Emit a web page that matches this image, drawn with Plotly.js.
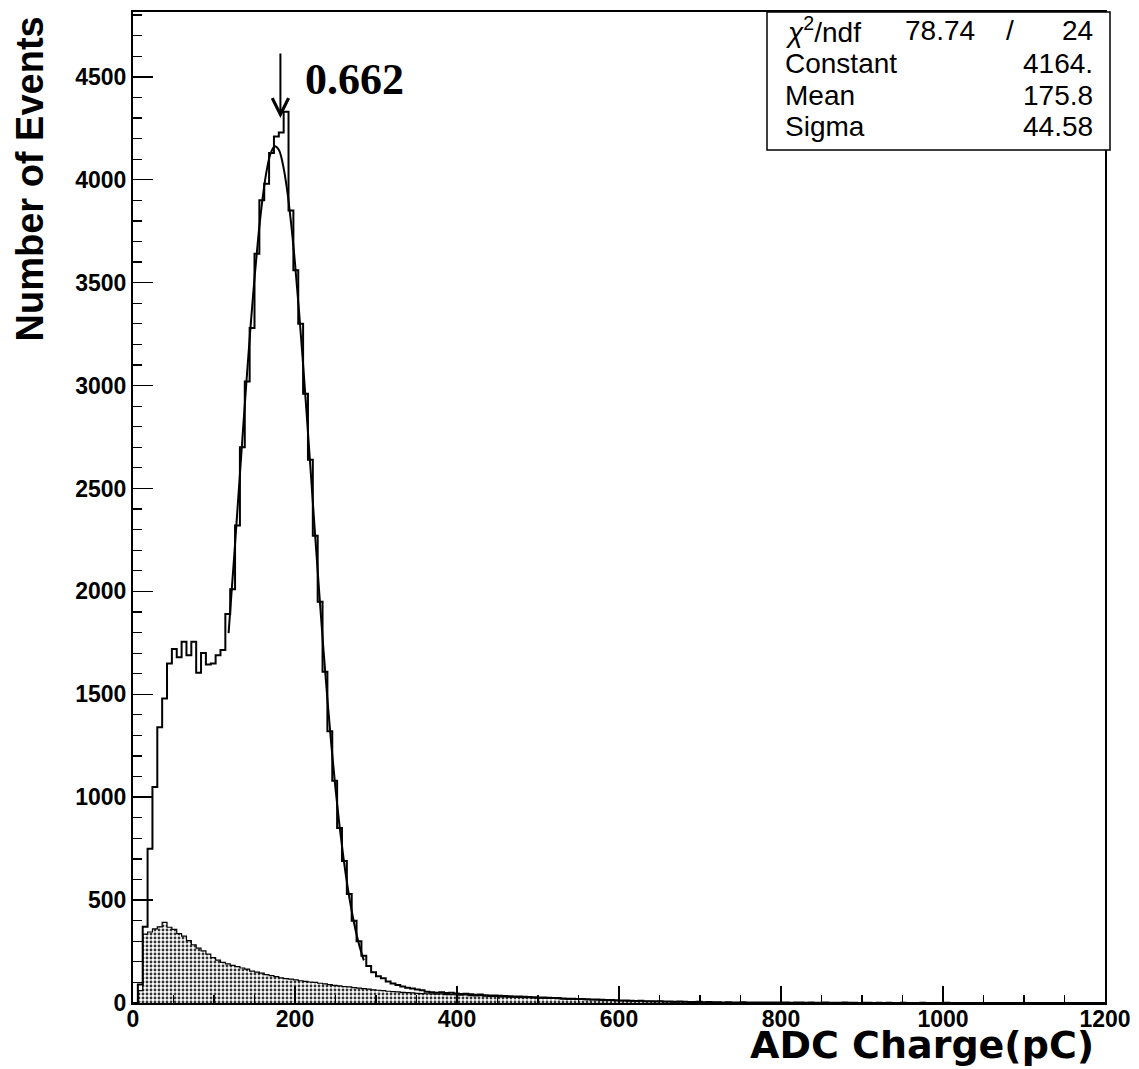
<!DOCTYPE html>
<html>
<head>
<meta charset="utf-8">
<script src="https://cdn.plot.ly/plotly-3.0.1.min.js"></script>
<style>
  html, body { margin: 0; padding: 0; background: #ffffff; }
  #chart { width: 1139px; height: 1069px; }
</style>
</head>
<body>
<div id="chart"></div>
<script>
// ---- Histogram binning (pC) ----
const BIN_START = 0;
const BIN_WIDTH = 6;

// ---- Total spectrum (open histogram), counts per 6 pC bin ----
const totalCounts = [
  0, 90, 370, 750, 1050, 1340, 1480, 1650, 1720, 1680,
  1755, 1690, 1755, 1605, 1700, 1645, 1650, 1690, 1715, 1890,
  2010, 2320, 2700, 3020, 3280, 3640, 3900, 3980, 4130, 4210,
  4230, 4330, 3850, 3560, 3300, 2960, 2640, 2270, 1950, 1610,
  1320, 1080, 850, 690, 530, 400, 300, 230, 180, 150,
  130, 120, 105, 95, 88, 80, 74, 70, 65, 62,
  55, 52, 50, 52, 48, 50, 46, 44, 45, 42,
  40, 41, 38, 37, 36, 35, 34, 33, 32, 31,
  30, 29, 28, 27, 27, 25, 24, 24, 22, 21,
  21, 20, 19, 18, 17, 17, 16, 15, 14, 13,
  12, 12, 11, 10, 11, 9, 9, 8, 9, 7,
  7, 6, 7, 6, 5, 5, 6, 4, 5, 4,
  4, 3, 4, 3, 3, 4, 2, 3, 3, 2,
  3, 2, 2, 3, 2, 1, 2, 2, 1, 2,
  1, 1, 2, 1, 1, 1, 2, 1, 1, 0,
  1, 1, 0, 1, 0, 1, 0, 0, 1, 0,
  0, 0, 1, 0, 0, 0, 0, 1, 0, 0,
  0, 0, 0, 0, 0, 0, 0, 0, 0, 0,
  0, 0, 0, 0, 0, 0, 0, 0, 0, 0,
  0, 0, 0, 0, 0, 0, 0, 0, 0, 0
];

// ---- Background spectrum (shaded histogram), counts per 6 pC bin ----
const backgroundCounts = [
  0, 60, 335, 345, 360, 370, 392, 368, 358, 337,
  325, 303, 283, 267, 253, 237, 220, 208, 197, 190,
  183, 177, 170, 165, 155, 150, 145, 138, 133, 128,
  122, 118, 116, 112, 108, 105, 102, 100, 96, 93,
  89, 86, 83, 80, 78, 75, 72, 70, 67, 64,
  62, 60, 57, 55, 54, 52, 50, 49, 47, 46,
  45, 44, 43, 44, 41, 41, 40, 38, 39, 36,
  35, 36, 33, 32, 32, 30, 30, 29, 28, 27,
  26, 26, 25, 24, 24, 22, 22, 21, 20, 19,
  19, 18, 17, 16, 16, 15, 14, 14, 13, 12,
  11, 11, 10, 9, 10, 8, 8, 7, 8, 6,
  6, 5, 6, 5, 4, 4, 5, 3, 4, 3,
  3, 2, 3, 2, 2, 3, 1, 2, 2, 1,
  2, 1, 1, 2, 1, 0, 1, 1, 0, 1,
  0, 1, 1, 0, 0, 1, 0, 0, 1, 0,
  0, 0, 0, 0, 0, 0, 0, 0, 0, 0,
  0, 0, 0, 0, 0, 0, 0, 0, 0, 0,
  0, 0, 0, 0, 0, 0, 0, 0, 0, 0,
  0, 0, 0, 0, 0, 0, 0, 0, 0, 0,
  0, 0, 0, 0, 0, 0, 0, 0, 0, 0
];

// ---- Gaussian fit curve ----
const fitX = [118, 125, 130, 135, 140, 145, 150, 155, 160, 165, 170, 175, 180, 185, 190,
              195, 200, 205, 210, 215, 220, 225, 230, 235, 240, 245, 250, 255, 260, 265,
              270, 275, 280, 285];
const fitY = [1797, 2175, 2457, 2739, 3017, 3280, 3522, 3735, 3910, 4044, 4129, 4163, 4146, 4076, 3958,
              3795, 3594, 3360, 3103, 2829, 2547, 2265, 1989, 1724, 1476, 1248, 1042, 859, 700, 563,
              447, 350, 271, 207];

// ---- Fit statistics ----
const statLabels = ["<i>χ</i><sup>2</sup>/ndf", "Constant", "Mean", "Sigma"];
const chi2Value = "78.74";
const ndfValue = "24";
const statValues = [null, "4164.", "175.8", "44.58"];
const peakLabel = "0.662";
const peakArrowX = 182;
const peakArrowY = 4300;

// ---- Axis ticks ----
const xTickVals = [0, 200, 400, 600, 800, 1000, 1200];
const yTickVals = [0, 500, 1000, 1500, 2000, 2500, 3000, 3500, 4000, 4500];

// build step outlines from bin edges
function stepXY(counts) {
  const xs = [BIN_START], ys = [0];
  for (let i = 0; i < counts.length; i++) {
    xs.push(BIN_START + i * BIN_WIDTH);
    ys.push(counts[i]);
  }
  xs.push(BIN_START + counts.length * BIN_WIDTH);
  ys.push(counts[counts.length - 1]);
  return {xs, ys};
}

const bg = stepXY(backgroundCounts);
const tot = stepXY(totalCounts);

const traces = [
  {
    type: 'scatter', mode: 'lines',
    x: bg.xs, y: bg.ys,
    line: {shape: 'hv', color: '#000', width: 1.2},
    fill: 'tozeroy',
    fillcolor: 'rgba(0,0,0,0)',
    fillpattern: {shape: '.', fgcolor: '#333', bgcolor: '#ffffff', size: 4, solidity: 0.4},
    hoverinfo: 'skip', showlegend: false
  },
  {
    type: 'scatter', mode: 'lines',
    x: tot.xs, y: tot.ys,
    line: {shape: 'hv', color: '#000', width: 2},
    hoverinfo: 'skip', showlegend: false
  },
  {
    type: 'scatter', mode: 'lines',
    x: fitX, y: fitY,
    line: {shape: 'spline', color: '#000', width: 2},
    hoverinfo: 'skip', showlegend: false
  }
];

const tickFont = {family: 'Liberation Sans, Arial, sans-serif', size: 23, color: '#000', weight: 'bold'};
const statFont = {family: 'Liberation Sans, Arial, sans-serif', size: 28, color: '#000'};

const L = 133, R = 1105, T = 12, B = 1003;
const px2paperX = p => (p - L) / (R - L);
const py2paperY = p => (B - p) / (B - T);

const statRowsY = [30, 63, 95, 126];
const annotations = [
  {
    text: 'Number of Events', xref: 'paper', yref: 'paper',
    x: px2paperX(30), y: py2paperY(15), xanchor: 'center', yanchor: 'top',
    textangle: -90, showarrow: false,
    font: {family: 'Liberation Sans, Arial, sans-serif', size: 38, color: '#000', weight: 'bold'}
  },
  {
    text: 'ADC Charge(pC)', xref: 'paper', yref: 'paper',
    x: px2paperX(1096), y: py2paperY(1069), xanchor: 'right', yanchor: 'bottom',
    showarrow: false,
    font: {family: 'DejaVu Sans, Liberation Sans, sans-serif', size: 38, color: '#000', weight: 'bold'}
  },
  {
    text: '', xref: 'x', yref: 'y', x: peakArrowX, y: peakArrowY,
    showarrow: true, arrowhead: 5, arrowsize: 1.6, arrowwidth: 2, arrowcolor: '#000',
    ax: 0, ay: -66
  },
  {
    text: peakLabel, xref: 'x', yref: 'y', x: 210, y: 4485,
    xanchor: 'left', yanchor: 'middle', showarrow: false,
    font: {family: 'Liberation Serif, Times New Roman, serif', size: 44, color: '#000', weight: 'bold'}
  }
];
statLabels.forEach((lab, i) => {
  annotations.push({
    text: lab, xref: 'paper', yref: 'paper', x: px2paperX(783), y: py2paperY(statRowsY[i]),
    xanchor: 'left', yanchor: 'middle', showarrow: false, font: statFont
  });
  if (statValues[i] !== null) {
    annotations.push({
      text: statValues[i], xref: 'paper', yref: 'paper', x: px2paperX(1095), y: py2paperY(statRowsY[i]),
      xanchor: 'right', yanchor: 'middle', showarrow: false, font: statFont
    });
  }
});
annotations.push({
  text: chi2Value, xref: 'paper', yref: 'paper', x: px2paperX(977), y: py2paperY(statRowsY[0]),
  xanchor: 'right', yanchor: 'middle', showarrow: false, font: statFont
});
annotations.push({
  text: '/', xref: 'paper', yref: 'paper', x: px2paperX(1010), y: py2paperY(statRowsY[0]),
  xanchor: 'center', yanchor: 'middle', showarrow: false, font: statFont
});
annotations.push({
  text: ndfValue, xref: 'paper', yref: 'paper', x: px2paperX(1095), y: py2paperY(statRowsY[0]),
  xanchor: 'right', yanchor: 'middle', showarrow: false, font: statFont
});

const layout = {
  width: 1139, height: 1069,
  margin: {l: L, r: 1139 - R, t: T, b: 1069 - B, pad: 0},
  paper_bgcolor: '#ffffff', plot_bgcolor: '#ffffff',
  showlegend: false,
  xaxis: {
    range: [0, 1200], tickvals: xTickVals, ticktext: xTickVals.map(String),
    ticks: 'inside', ticklen: 17, tickwidth: 1.5, tickcolor: '#000',
    minor: {ticks: 'inside', ticklen: 8, dtick: 50, tick0: 0, tickwidth: 1.2, tickcolor: '#000', showgrid: false},
    showline: true, linecolor: '#000', linewidth: 2, mirror: true,
    showgrid: false, zeroline: false, tickfont: tickFont, ticklabelstandoff: -6
  },
  yaxis: {
    range: [0, 4815], tickvals: yTickVals, ticktext: yTickVals.map(String),
    ticks: 'inside', ticklen: 20, tickwidth: 1.5, tickcolor: '#000',
    minor: {ticks: 'inside', ticklen: 9, dtick: 100, tick0: 0, tickwidth: 1.2, tickcolor: '#000', showgrid: false},
    showline: true, linecolor: '#000', linewidth: 2, mirror: true,
    showgrid: false, zeroline: false, tickfont: tickFont
  },
  shapes: [
    {
      type: 'rect', xref: 'paper', yref: 'paper',
      x0: px2paperX(767), x1: px2paperX(1110), y0: py2paperY(150), y1: py2paperY(12),
      line: {color: '#000', width: 1.5}, fillcolor: '#ffffff', layer: 'above'
    }
  ],
  annotations: annotations
};

Plotly.newPlot('chart', traces, layout, {displayModeBar: false, staticPlot: true});
</script>
</body>
</html>
